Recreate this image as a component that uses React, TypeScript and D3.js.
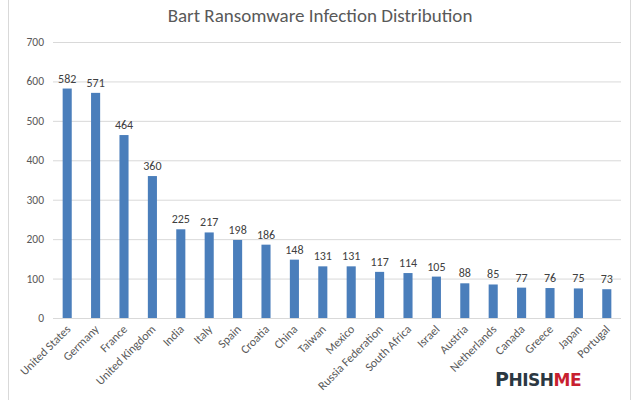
import React from "react";
import * as d3 from "d3";

const categories = ["United States","Germany","France","United Kingdom","India","Italy","Spain","Croatia","China","Taiwan","Mexico","Russia Federation","South Africa","Israel","Austria","Netherlands","Canada","Greece","Japan","Portugal"];
const values = [582,571,464,360,225,217,198,186,148,131,131,117,114,105,88,85,77,76,75,73];
const yTicks = [0,100,200,300,400,500,600,700];
const title = "Bart Ransomware Infection Distribution";

const W = 640, H = 400;
const left = 53, right = 621, top = 42, bottom = 318;
const FONT = "Carlito, Calibri, Lato, 'Open Sans', sans-serif";

export default function App() {
  const x = d3.scaleBand<string>().domain(categories).range([left, right]).paddingInner(0.68).paddingOuter(0.34);
  const y = d3.scaleLinear().domain([0, 700]).range([bottom, top]);
  return (
    <svg width={W} height={H} style={{ position: "absolute", left: 0, top: 0 }} fontFamily={FONT}>
      <rect x={0} y={0} width={W} height={H} fill="#fff" />
      <rect x={8.5} y={-1} width={622} height={H + 2} fill="none" stroke="#d9d9d9" />
      <text x={320} y={22} textAnchor="middle" fontSize={19} fill="#595959">{title}</text>
      {yTicks.map(t => (
        <g key={t}>
          <line x1={left} x2={right} y1={y(t) + 0.5} y2={y(t) + 0.5} stroke="#d9d9d9" />
          <text x={44} y={y(t) + 4} textAnchor="end" fontSize={11.5} fill="#595959">{t}</text>
        </g>
      ))}
      {categories.map((c, i) => (
        <g key={c}>
          <rect x={x(c)} y={y(values[i])} width={x.bandwidth()} height={bottom - y(values[i])} fill="#4a7ebb" />
          <text x={x(c)! + x.bandwidth() / 2} y={y(values[i]) - 6} textAnchor="middle" fontSize={12} fill="#404040">{values[i]}</text>
          <text transform={`translate(${x(c)! + x.bandwidth() / 2 + 4},${bottom + 12}) rotate(-45)`} textAnchor="end" fontSize={12} fill="#595959">{c}</text>
        </g>
      ))}
      <text x={495} y={386} fontFamily="'DejaVu Sans', sans-serif" fontWeight={900} fontSize={17} letterSpacing={-0.5}>
        <tspan fill="#2b3842" fontSize={19}>P</tspan>
        <tspan fill="#2b3842">HISH</tspan>
        <tspan fill="#c8202f">ME</tspan>
      </text>
    </svg>
  );
}
